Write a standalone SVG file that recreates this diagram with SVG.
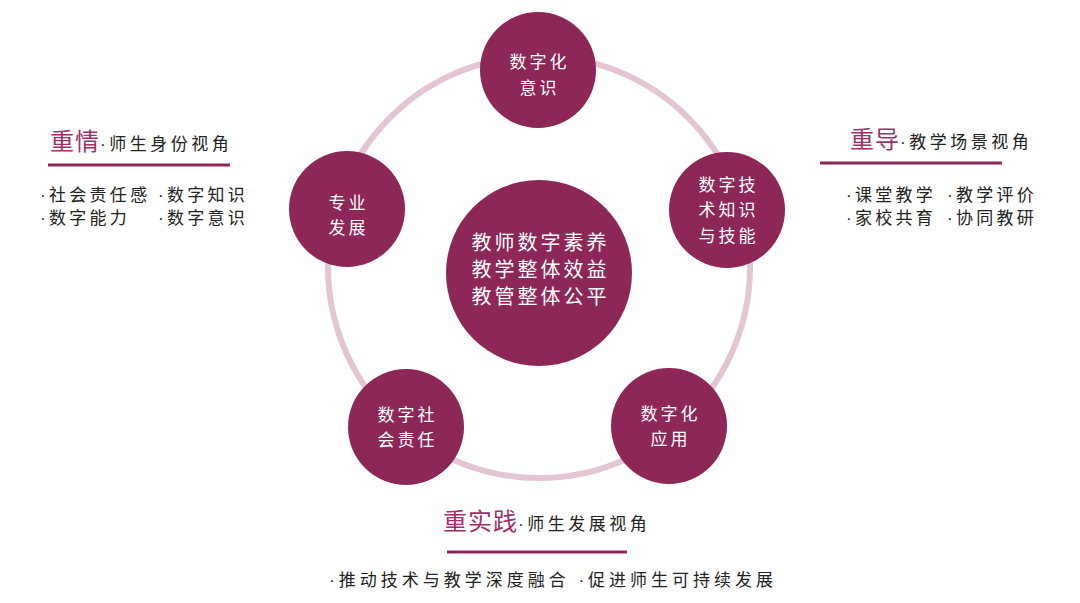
<svg xmlns="http://www.w3.org/2000/svg" width="1080" height="603" viewBox="0 0 1080 603">
<style>
.node{fill:#8c2758}
.nt{font-family:"Noto Sans CJK SC","Noto Sans",sans-serif;font-size:17px;fill:#ffffff;text-anchor:middle;letter-spacing:3px}
.ct{font-family:"Noto Sans CJK SC","Noto Sans",sans-serif;font-size:20px;fill:#ffffff;text-anchor:middle;letter-spacing:3px}
.hd{font-family:"Noto Sans CJK SC","Noto Sans",sans-serif;font-size:24px;fill:#9e3168;letter-spacing:1px}
.sub{font-family:"Liberation Sans","Noto Sans CJK SC",sans-serif;font-size:17px;fill:#222222;letter-spacing:3.5px}
.bl{font-family:"Liberation Sans","Noto Sans CJK SC",sans-serif;font-size:17px;fill:#222222;letter-spacing:3.3px}
.ul{stroke:#8c2758;stroke-width:3}
</style>
<g id="connectors">
<circle cx="539" cy="267" r="211" fill="none" stroke="#e3c5d4" stroke-width="6"/>
</g>
<g id="center">
<circle class="node" cx="539" cy="273" r="93"/>
<text class="ct" x="540.5" y="250">教师数字素养</text>
<text class="ct" x="540.5" y="277">教学整体效益</text>
<text class="ct" x="540.5" y="304">教管整体公平</text>
</g>
<g id="node-top">
<circle class="node" cx="538" cy="70" r="58"/>
<text class="nt" x="539.5" y="68">数字化</text>
<text class="nt" x="539.5" y="94">意识</text>
</g>
<g id="node-right">
<circle class="node" cx="727" cy="210" r="58"/>
<text class="nt" x="728.5" y="191">数字技</text>
<text class="nt" x="728.5" y="216">术知识</text>
<text class="nt" x="728.5" y="242">与技能</text>
</g>
<g id="node-left">
<circle class="node" cx="347" cy="209" r="58"/>
<text class="nt" x="348.5" y="209">专业</text>
<text class="nt" x="348.5" y="234">发展</text>
</g>
<g id="node-bottom-left">
<circle class="node" cx="406" cy="427" r="58"/>
<text class="nt" x="407.5" y="421">数字社</text>
<text class="nt" x="407.5" y="446">会责任</text>
</g>
<g id="node-bottom-right">
<circle class="node" cx="669" cy="426" r="58"/>
<text class="nt" x="670.5" y="420">数字化</text>
<text class="nt" x="670.5" y="445">应用</text>
</g>
<g id="label-left">
<text x="50" y="150"><tspan class="hd">重情</tspan><tspan class="sub">·师生身份视角</tspan></text>
<line class="ul" x1="48" y1="165" x2="230" y2="165"/>
<text class="bl" x="40" y="201">·社会责任感</text>
<text class="bl" x="158" y="201">·数字知识</text>
<text class="bl" x="40" y="224">·数字能力</text>
<text class="bl" x="158" y="224">·数字意识</text>
</g>
<g id="label-right">
<text x="850" y="148"><tspan class="hd">重导</tspan><tspan class="sub">·教学场景视角</tspan></text>
<line class="ul" x1="820" y1="163" x2="1002" y2="163"/>
<text class="bl" x="846" y="201">·课堂教学</text>
<text class="bl" x="947" y="201">·教学评价</text>
<text class="bl" x="846" y="224">·家校共育</text>
<text class="bl" x="947" y="224">·协同教研</text>
</g>
<g id="label-bottom">
<text x="443" y="530"><tspan class="hd">重实践</tspan><tspan class="sub">·师生发展视角</tspan></text>
<line class="ul" x1="447" y1="552" x2="627" y2="552"/>
<text class="bl" x="329" y="586" style="letter-spacing:4px">·推动技术与教学深度融合 ·促进师生可持续发展</text>
</g>
</svg>
